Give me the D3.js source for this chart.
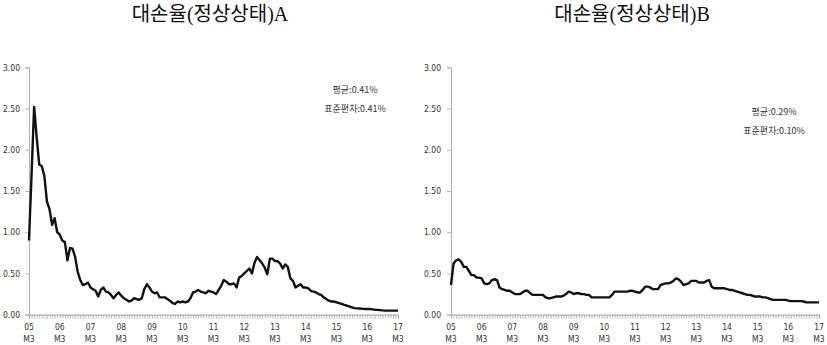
<!DOCTYPE html>
<html><head><meta charset="utf-8">
<script src="https://cdn.jsdelivr.net/npm/d3@7"></script>
<style>body{margin:0;background:#fff}svg{display:block}</style>
</head><body>
<svg id="c" width="827" height="345"></svg>
<script>
const yearLabels = ["05","06","07","08","09","10","11","12","13","14","15","16","17"];
const monthLabel = "M3";
const yTicks = [0, 0.5, 1.0, 1.5, 2.0, 2.5, 3.0];
const titles = ["대손율(정상상태)A", "대손율(정상상태)B"];
const notesA = ["평균:0.41%", "표준편차:0.41%"];
const notesB = ["평균:0.29%", "표준편차:0.10%"];
const seriesA = [0.90,1.70,2.52,2.15,1.82,1.80,1.68,1.37,1.28,1.09,1.17,1.00,0.97,0.90,0.88,0.66,0.81,0.80,0.70,0.52,
0.42,0.36,0.37,0.39,0.33,0.31,0.29,0.22,0.30,0.33,0.28,0.27,0.24,0.20,0.24,0.27,0.23,0.20,0.18,0.16,
0.17,0.20,0.19,0.18,0.20,0.31,0.37,0.33,0.28,0.26,0.27,0.21,0.21,0.21,0.19,0.17,0.14,0.13,0.16,0.15,
0.16,0.15,0.16,0.20,0.27,0.28,0.30,0.28,0.27,0.26,0.29,0.28,0.27,0.25,0.30,0.35,0.42,0.40,0.37,0.37,
0.38,0.33,0.45,0.47,0.50,0.53,0.56,0.50,0.63,0.70,0.66,0.62,0.57,0.49,0.68,0.68,0.65,0.65,0.62,0.56,
0.61,0.58,0.44,0.41,0.33,0.35,0.37,0.33,0.33,0.32,0.29,0.28,0.27,0.25,0.24,0.21,0.19,0.17,0.16,0.16,
0.15,0.14,0.13,0.12,0.11,0.10,0.09,0.08,0.077,0.075,0.072,0.07,0.07,0.07,0.065,0.06,0.058,0.055,0.052,0.05,
0.05,0.05,0.05,0.05,0.05];
const seriesB = [0.36,0.62,0.66,0.67,0.64,0.58,0.58,0.53,0.48,0.48,0.45,0.45,0.44,0.38,0.37,0.38,0.42,0.43,0.42,0.33,
0.31,0.30,0.29,0.29,0.27,0.25,0.25,0.25,0.27,0.29,0.29,0.26,0.24,0.24,0.24,0.24,0.24,0.21,0.20,0.20,
0.21,0.22,0.22,0.22,0.23,0.25,0.28,0.27,0.25,0.26,0.26,0.25,0.25,0.24,0.24,0.21,0.21,0.21,0.21,0.21,
0.21,0.21,0.21,0.24,0.28,0.28,0.28,0.28,0.28,0.28,0.29,0.29,0.28,0.27,0.27,0.30,0.34,0.34,0.33,0.31,
0.31,0.31,0.36,0.37,0.38,0.38,0.39,0.41,0.44,0.43,0.40,0.36,0.37,0.38,0.41,0.41,0.41,0.39,0.39,0.39,
0.41,0.42,0.34,0.32,0.32,0.32,0.32,0.32,0.31,0.30,0.30,0.29,0.28,0.27,0.26,0.25,0.24,0.24,0.23,0.22,
0.22,0.22,0.21,0.21,0.20,0.19,0.18,0.18,0.18,0.18,0.18,0.18,0.17,0.165,0.165,0.165,0.165,0.165,0.16,0.15,
0.15,0.15,0.15,0.15,0.15];

const svg = d3.select("#c");
const font = "'Noto Sans CJK KR', 'Noto Sans', sans-serif";
const titleFont = "'Liberation Serif', 'Noto Sans CJK KR', serif";

function panel(cfg) {
  const g = svg.append("g");
  const x = d3.scaleLinear().domain([0, cfg.data.length - 1]).range([cfg.x0, cfg.x1]);
  const y = d3.scaleLinear().domain([0, 3]).range([cfg.yb, cfg.yt]);

  g.append("text").attr("x", cfg.tx).attr("y", 21).attr("text-anchor", "middle")
    .attr("font-family", titleFont).attr("font-size", 20).attr("fill", "#111").text(cfg.title);

  const ya = g.append("g").attr("transform", `translate(${cfg.x0},0)`)
    .call(d3.axisLeft(y).tickValues(yTicks).tickFormat(d3.format(".2f")).tickSize(4).tickPadding(cfg.ypad));
  ya.select(".domain").attr("stroke", "#b5b5b5").attr("stroke-width", 1.2);
  ya.selectAll(".tick line").attr("stroke", "#b5b5b5");
  ya.selectAll("text").attr("font-family", "'Liberation Sans Narrow','DejaVu Sans Condensed',sans-serif")
    .attr("font-size", 8.5).attr("fill", "#333");

  const xa = g.append("g").attr("transform", `translate(0,${cfg.yb})`)
    .call(d3.axisBottom(x).tickValues(d3.range(cfg.data.length)).tickSize(4).tickFormat(""));
  xa.select(".domain").attr("stroke", "#b5b5b5").attr("stroke-width", 1.2);
  xa.selectAll(".tick line").attr("stroke", "#aaa").attr("stroke-width", 0.8);

  const lbl = g.append("g");
  yearLabels.forEach((yl, i) => {
    const t = lbl.append("text").attr("x", x(i * 12)).attr("text-anchor", "middle")
      .attr("font-family", "'Liberation Sans Narrow','DejaVu Sans Condensed',sans-serif")
      .attr("font-size", 8.5).attr("fill", "#333");
    t.append("tspan").attr("x", x(i * 12)).attr("y", cfg.yb + 15).text(yl);
    t.append("tspan").attr("x", x(i * 12)).attr("y", cfg.yb + 27).text(monthLabel);
  });

  g.append("path").datum(cfg.data)
    .attr("fill", "none").attr("stroke", "#111").attr("stroke-width", 2.4)
    .attr("stroke-linejoin", "round")
    .attr("d", d3.line().x((d, i) => x(i)).y(d => y(d)));

  cfg.notes.forEach((n, i) => {
    g.append("text").attr("x", cfg.nx).attr("y", cfg.ny + i * 19).attr("text-anchor", "middle")
      .attr("font-family", font).attr("font-size", 9).attr("fill", "#333").text(n);
  });
}

panel({data: seriesA, x0: 29, x1: 398, yb: 314.7, yt: 67.3, tx: 210, title: titles[0], notes: notesA, nx: 355, ny: 93, ypad: 5});
panel({data: seriesB, x0: 451, x1: 819, yb: 314.7, yt: 67.3, tx: 632, title: titles[1], notes: notesB, nx: 774, ny: 115, ypad: 6});
</script>
</body></html>
